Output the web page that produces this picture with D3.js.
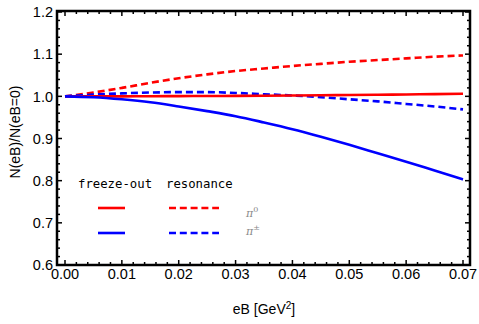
<!DOCTYPE html>
<html>
<head>
<meta charset="utf-8">
<script src="https://cdn.jsdelivr.net/npm/d3@7"></script>
<style>
  body { margin: 0; background: #fff; }
  svg { display: block; }
</style>
</head>
<body>
<script>
// eB grid (GeV^2) and ratios
const eB = [0, 0.005, 0.01, 0.015, 0.02, 0.025, 0.03, 0.035, 0.04, 0.045, 0.05, 0.055, 0.06, 0.065, 0.07];
const pi0Freeze = [1.0, 1.0, 1.0, 1.0002, 1.0005, 1.0008, 1.001, 1.0015, 1.002, 1.0025, 1.003, 1.0037, 1.0045, 1.0052, 1.006];
const pi0Reson  = [1.0, 1.009, 1.02, 1.032, 1.043, 1.052, 1.060, 1.066, 1.072, 1.077, 1.082, 1.086, 1.090, 1.094, 1.097];
const piPMFreeze = [1.0, 0.998, 0.993, 0.986, 0.976, 0.965, 0.953, 0.938, 0.922, 0.904, 0.885, 0.865, 0.845, 0.824, 0.803];
const piPMReson  = [1.0, 1.004, 1.007, 1.009, 1.010, 1.010, 1.008, 1.005, 1.002, 0.998, 0.993, 0.988, 0.982, 0.976, 0.969];
const xTicks = [0, 0.01, 0.02, 0.03, 0.04, 0.05, 0.06, 0.07];
const yTicks = [0.6, 0.7, 0.8, 0.9, 1.0, 1.1, 1.2];

const W = 479, H = 324;
const frame = {left: 57, right: 470, top: 11, bottom: 265};
const sans = "Liberation Sans, Arial, sans-serif";

const svg = d3.select("body").append("svg")
    .attr("width", W).attr("height", H);

const x = d3.scaleLinear().domain([0, 0.07]).range([65, 463]);
const y = d3.scaleLinear().domain([0.6, 1.2]).range([frame.bottom, frame.top + 1]);

// ticks (inward, on all four sides)
const g = svg.append("g").attr("stroke", "#000").attr("stroke-width", 1.5);
d3.range(0, 0.0701, 0.002).forEach(v => {
  const major = xTicks.some(t => Math.abs(t - v) < 1e-6);
  const len = major ? 5 : 3;
  g.append("line").attr("x1", x(v)).attr("x2", x(v)).attr("y1", frame.bottom).attr("y2", frame.bottom - len);
  g.append("line").attr("x1", x(v)).attr("x2", x(v)).attr("y1", frame.top).attr("y2", frame.top + len);
});
d3.range(0.6, 1.2001, 0.02).forEach(v => {
  const major = yTicks.some(t => Math.abs(t - v) < 1e-6);
  const len = major ? 5 : 3;
  g.append("line").attr("x1", frame.left).attr("x2", frame.left + len).attr("y1", y(v)).attr("y2", y(v));
  g.append("line").attr("x1", frame.right).attr("x2", frame.right - len).attr("y1", y(v)).attr("y2", y(v));
});

// curves
const line = d3.line().x((d, i) => x(eB[i])).y(d => y(d)).curve(d3.curveMonotoneX);
const series = [
  {v: pi0Reson, color: "#ff0000", dash: "7,4"},
  {v: piPMReson, color: "#0000ff", dash: "7,4"},
  {v: pi0Freeze, color: "#ff0000", dash: null},
  {v: piPMFreeze, color: "#0000ff", dash: null}
];
series.forEach(s => {
  svg.append("path")
    .datum(s.v)
    .attr("d", line)
    .attr("fill", "none")
    .attr("stroke", s.color)
    .attr("stroke-width", 2.6)
    .attr("stroke-dasharray", s.dash);
});

// frame
svg.append("rect")
  .attr("x", frame.left).attr("y", frame.top)
  .attr("width", frame.right - frame.left).attr("height", frame.bottom - frame.top)
  .attr("fill", "none").attr("stroke", "#000").attr("stroke-width", 2.5);

// tick labels
svg.append("g").selectAll("text").data(xTicks).enter().append("text")
  .attr("x", d => x(d)).attr("y", 279)
  .attr("text-anchor", "middle")
  .attr("font-family", sans)
  .attr("font-size", "14.5px")
  .text(d => d3.format(".2f")(d));
svg.append("g").selectAll("text").data(yTicks).enter().append("text")
  .attr("x", 53).attr("y", d => y(d) + 5.2)
  .attr("text-anchor", "end")
  .attr("font-family", sans)
  .attr("font-size", "14.5px")
  .text(d => d3.format(".1f")(d));

// axis titles
const xt = svg.append("text")
  .attr("x", 264).attr("y", 314)
  .attr("text-anchor", "middle")
  .attr("font-family", sans)
  .attr("font-size", "14px");
xt.append("tspan").text("eB [GeV");
xt.append("tspan").attr("dy", -5).attr("font-size", "10px").text("2");
xt.append("tspan").attr("dy", 5).text("]");

svg.append("text")
  .attr("transform", "translate(20,132) rotate(-90)")
  .attr("text-anchor", "middle")
  .attr("font-family", sans)
  .attr("font-size", "14px")
  .text("N(eB)/N(eB=0)");

// legend
const mono = "DejaVu Sans Mono, Liberation Mono, monospace";
svg.append("text").attr("x", 78).attr("y", 188)
  .attr("font-family", mono).attr("font-size", "12.3px").text("freeze-out");
svg.append("text").attr("x", 166).attr("y", 188)
  .attr("font-family", mono).attr("font-size", "12.3px").text("resonance");

const legRows = [
  {y: 208, color: "#ff0000", label: "0"},
  {y: 233, color: "#0000ff", label: "±"}
];
legRows.forEach((r, i) => {
  svg.append("line").attr("x1", 98).attr("x2", 125).attr("y1", r.y).attr("y2", r.y)
    .attr("stroke", r.color).attr("stroke-width", 2.6);
  svg.append("line").attr("x1", 169).attr("x2", 219).attr("y1", r.y).attr("y2", r.y)
    .attr("stroke", r.color).attr("stroke-width", 2.6).attr("stroke-dasharray", "7,3.8");
  const t = svg.append("text").attr("x", 246).attr("y", i === 0 ? 217 : 235)
    .attr("font-family", "DejaVu Serif, serif").attr("font-style", "italic")
    .attr("font-size", "11px").attr("fill", "#888");
  t.append("tspan").text("π");
  t.append("tspan").attr("dy", -5).attr("font-size", "8px").attr("font-style", "normal").text(r.label);
});
</script>
</body>
</html>
